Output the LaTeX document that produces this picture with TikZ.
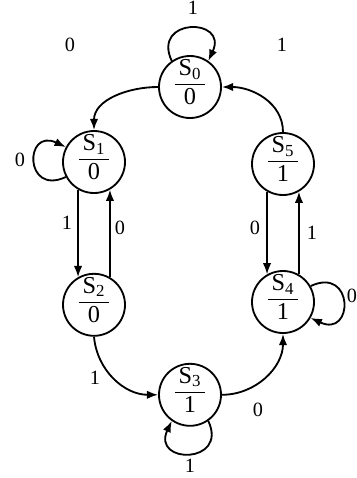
\documentclass[tikz,border=0pt]{standalone}
\usepackage{fontspec}
\setmainfont{Liberation Serif}
\usepackage{tikz}
\usetikzlibrary{calc,positioning,arrows,arrows.meta}

\setlength{\arrayrulewidth}{1pt}
\newcommand{\stlab}[2]{\raisebox{-5pt}{\smash{\renewcommand{\arraystretch}{0.9}%
  \begin{tabular}{@{\,}c@{\,}}S\textsubscript{#1}\\\hline #2\end{tabular}}}}

\begin{document}
\begin{tikzpicture}
[xscale=1,yscale=1]

    \tikzstyle{state}=[draw,circle,line width=1.3pt,minimum size=1.55cm,
                       inner sep=0pt,font=\LARGE]
    \tikzstyle{lab}=[font=\Large,inner sep=1pt]
    \tikzstyle{every path}=[line width=1.3pt]
    \tikzstyle{tr}=[-{Latex[length=8pt,width=6pt]}]

    \useasboundingbox (0,0) rectangle (8.925,-11.95);

    % the six states, output under the bar
    \node[state] (s0) at (4.75,-2.175) {\stlab{0}{0}};
    \node[state] (s1) at (2.35,-4.05) {\stlab{1}{0}};
    \node[state] (s2) at (2.35,-7.62) {\stlab{2}{0}};
    \node[state] (s3) at (4.75,-9.87) {\stlab{3}{1}};
    \node[state] (s4) at (7.075,-7.55) {\stlab{4}{1}};
    \node[state] (s5) at (7.075,-4.1) {\stlab{5}{1}};

    % transitions
    \draw[tr] (s0.west) to[out=180,in=90] (s1.north);
    \draw[tr] (s1.240) -- (s2.120);
    \draw[tr] (s2.60) -- (s1.300);
    \draw[tr] (s2.south) to[out=-85,in=180] (s3.west);
    \draw[tr] (s3.east) to[out=0,in=-90] (s4.south);
    \draw[tr] (s4.60) -- (s5.300);
    \draw[tr] (s5.240) -- (s4.120);
    \draw[tr] (s5.north) to[out=90,in=0] (s0.east);

    % self loops
    \draw[tr] (s0.125) .. controls +(115:1.2) and +(65:1.2) .. (s0.55);
    \draw[tr] (s1.208) .. controls +(205:1.15) and +(155:1.15) .. (s1.152);
    \draw[tr] (s3.-55) .. controls +(-65:1.2) and +(-115:1.2) .. (s3.-125);
    \draw[tr] (s4.30) .. controls +(25:1.2) and +(-25:1.2) .. (s4.-30);

    % input labels
    \node[lab] (l00) at (4.825,-0.2) {1};
    \node[lab] (l01) at (1.75,-1.125) {0};
    \node[lab] (l11) at (0.5,-4.0) {0};
    \node[lab] (l12) at (1.675,-5.575) {1};
    \node[lab] (l21) at (3.0,-5.7) {0};
    \node[lab] (l23) at (2.375,-9.45) {1};
    \node[lab] (l33) at (4.75,-11.65) {1};
    \node[lab] (l34) at (6.45,-10.25) {0};
    \node[lab] (l44) at (8.8,-7.4) {0};
    \node[lab] (l45) at (7.8,-5.825) {1};
    \node[lab] (l54) at (6.375,-5.7) {0};
    \node[lab] (l50) at (7.05,-1.125) {1};

 \end{tikzpicture}
\end{document}
